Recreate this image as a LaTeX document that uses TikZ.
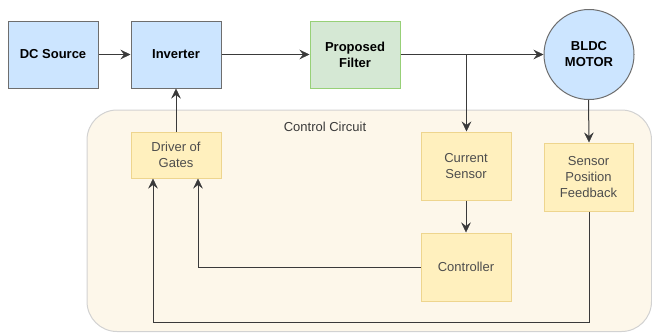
\documentclass[tikz,border=0pt]{standalone}
\usepackage{fontspec}
\setmainfont{Liberation Sans}
\usetikzlibrary{arrows.meta}

\definecolor{bluefill}{HTML}{CCE5FF}
\definecolor{bluedraw}{HTML}{6E6E6E}
\definecolor{greenfill}{HTML}{D5E8D4}
\definecolor{greendraw}{HTML}{97D077}
\definecolor{yellowfill}{HTML}{FFF0BE}
\definecolor{yellowdraw}{HTML}{EED58E}
\definecolor{panelfill}{HTML}{FDF7EA}
\definecolor{paneldraw}{HTML}{D2D2D2}
\definecolor{wire}{HTML}{3A3A3A}
\definecolor{softtext}{HTML}{4D4D4D}

\tikzset{
  x=1pt, y=-1pt,
  every node/.style={font=\fontsize{13}{16}\selectfont, align=center, inner sep=0pt},
  powerbox/.style={draw=bluedraw, fill=bluefill, line width=1pt,
    minimum width=90pt, minimum height=67pt, font=\fontsize{13}{16}\selectfont\bfseries},
  filterbox/.style={draw=greendraw, fill=greenfill, line width=1pt,
    minimum width=90pt, minimum height=67pt, font=\fontsize{13}{16}\selectfont\bfseries},
  motorshape/.style={circle, draw=bluedraw, fill=bluefill, line width=1pt,
    minimum size=90pt, font=\fontsize{13}{16}\selectfont\bfseries},
  ctrlbox/.style={draw=yellowdraw, fill=yellowfill, line width=1pt,
    minimum width=90pt, text=softtext},
  wireline/.style={draw=wire, line width=1pt,
    -{Stealth[length=10pt,width=9.5pt,inset=3.5pt,line width=0.5pt]}},
}

\begin{document}
\begin{tikzpicture}
\useasboundingbox (0,0) rectangle (652,332);

% control circuit panel
\draw[fill=panelfill, draw=paneldraw, line width=1pt, rounded corners=30pt]
  (87,110) rectangle (651.5,331.5);
\node[text=wire] (paneltitle) at (325,127) {Control Circuit};

% power path
\node[powerbox] (dc) at (53,54.5) {DC Source};
\node[powerbox] (inv) at (176,54.5) {Inverter};
\node[filterbox] (filt) at (355,54.5) {Proposed\\Filter};
\node[motorshape] (motor) at (589,54.5) {BLDC\\MOTOR};

% control blocks
\node[ctrlbox, minimum height=46pt] (drv) at (176,155) {Driver of\\Gates};
\node[ctrlbox, minimum height=68pt] (cur) at (466,166) {Current\\Sensor};
\node[ctrlbox, minimum width=89pt, minimum height=68pt] (spf) at (588.5,177) {Sensor\\Position\\Feedback};
\node[ctrlbox, minimum height=68pt] (contr) at (466,267) {Controller};

% tap point on the filter output
\coordinate (tap) at (466.5,54.5);
\coordinate (fbcorner) at (589,322.7);

% connectors
\draw[wireline] (dc) -- (inv);
\draw[wireline] (inv) -- (filt);
\draw[wireline] (filt) -- (motor);
\draw[wireline] (tap) -- (cur.north -| tap);
\draw[wireline] (motor.south -| spf.north) -- (spf.north -| motor.south);
\draw[wireline] (drv) -- (inv);
\draw[wireline] (cur) -- (contr);
\draw[wireline] (contr.west) -| ([xshift=22pt]drv.south);
\draw[wireline] (spf.south -| fbcorner) -- (fbcorner) -| ([xshift=-23pt]drv.south);
\end{tikzpicture}
\end{document}
